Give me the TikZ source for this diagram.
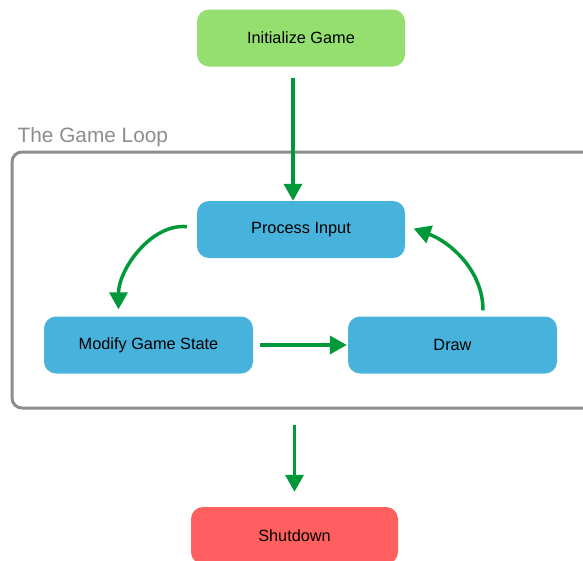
\documentclass[tikz,border=0pt]{standalone}
\usepackage{fontspec}
\setmainfont{Liberation Sans}
\usetikzlibrary{arrows.meta}

\definecolor{initgreen}{HTML}{95DF70}
\definecolor{loopblue}{HTML}{47B3DC}
\definecolor{stopred}{HTML}{FF5F5F}
\definecolor{flowgreen}{HTML}{00993A}
\definecolor{framegray}{HTML}{8B8D90}

\tikzset{
  box/.style={rounded corners=12pt, minimum width=208pt, minimum height=57pt,
    inner sep=0pt, text=black, font=\fontsize{16.3}{19}\selectfont},
  flow/.style={draw=flowgreen, line width=3.5pt,
    -{Triangle[width=18pt,length=17pt]}},
}

\begin{document}
\begin{tikzpicture}[x=1pt,y=-1pt]
\clip (0,0) rectangle (583,560);
\fill[white] (0,0) rectangle (583,560);
% the loop frame
\node[draw=framegray, line width=3pt, rounded corners=10pt,
  minimum width=583pt, minimum height=256pt] (loop) at (303.5,280) {};
\node[anchor=base west, text=framegray, inner sep=0pt,
  font=\fontsize{20.8}{24}\selectfont] (looplabel)
  at ([xshift=7pt,yshift=8pt]loop.north west) {The Game Loop};
% steps
\node[box, fill=initgreen] (init) at (301,38) {Initialize Game};
\node[box, fill=loopblue] (input) at (301,229.5) {Process Input};
\node[box, fill=loopblue, minimum width=209pt] (update) at (148.5,345) {Modify Game State};
\node[box, fill=loopblue, minimum width=209pt] (render) at (452.5,345) {Draw};
\node[box, fill=stopred, minimum width=207pt] (shut) at (294.5,535.5) {Shutdown};
% arrows
\draw[flow, shorten <=11pt] ([xshift=-8pt]init.south) -- ([xshift=-8pt]input.north);
\draw[flow, shorten <=10pt, shorten >=7pt] ([yshift=2pt]input.west)
  to[out=175, in=90] ([xshift=-30pt]update.north);
\draw[flow, shorten <=7pt, shorten >=1pt] (update.east) -- (render.west);
\draw[flow, shorten <=6pt, shorten >=9pt] ([xshift=30.5pt]render.north)
  to[out=90, in=-20] ([yshift=4pt]input.east);
\draw[flow, shorten <=15pt, shorten >=15pt] (loop.south -| shut) -- (shut.north);
\end{tikzpicture}
\end{document}
